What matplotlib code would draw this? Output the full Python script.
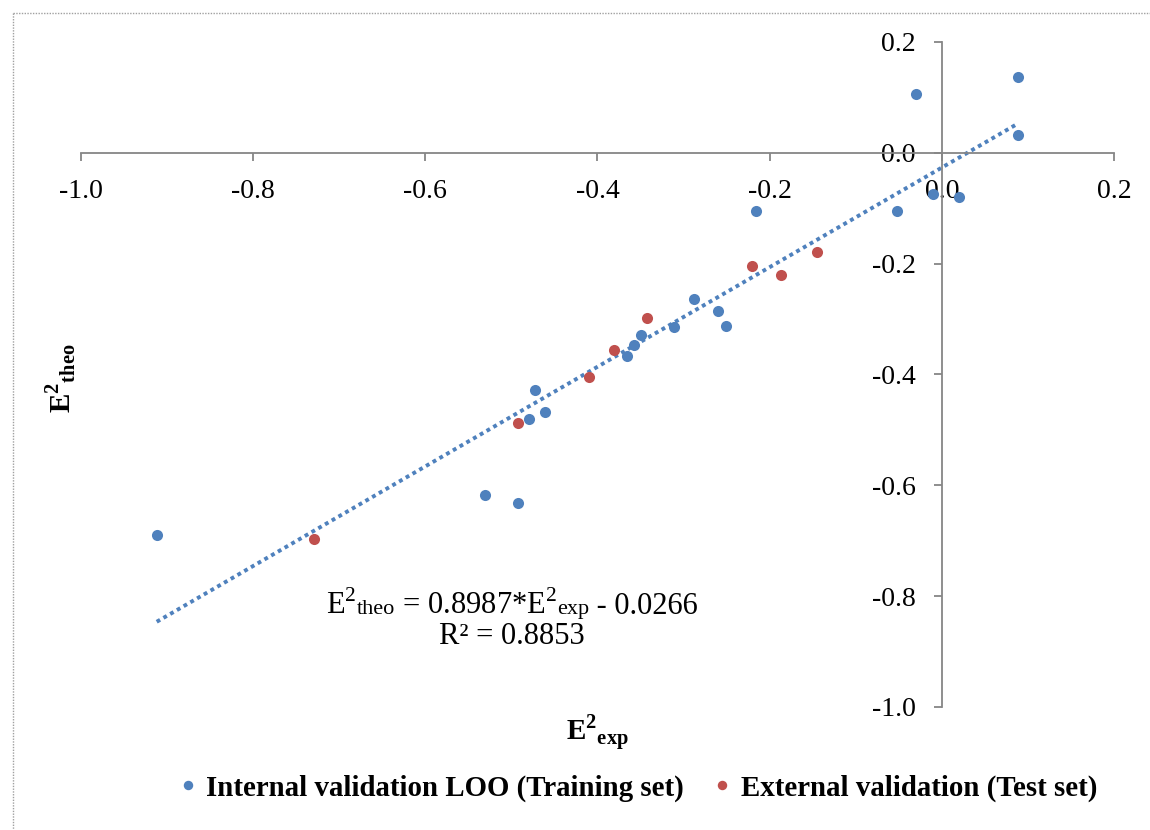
import numpy as np
import matplotlib
matplotlib.use("Agg")
from matplotlib import pyplot as plt
from matplotlib.lines import Line2D
from matplotlib.offsetbox import TextArea, HPacker, AnnotationBbox

plt.rcParams['font.family'] = ['Liberation Serif', 'DejaVu Serif']
plt.rcParams['mathtext.fontset'] = 'custom'
plt.rcParams['mathtext.rm'] = 'Liberation Serif'
plt.rcParams['mathtext.bf'] = 'Liberation Serif:bold'

# training set (internal validation LOO)
train_exp = [-0.912, -0.531, -0.492, -0.472, -0.480, -0.461, -0.366, -0.357, -0.350,
             -0.311, -0.288, -0.260, -0.251, -0.216, -0.052, -0.030, 0.089, 0.089,
             -0.010, 0.020]
train_theo = [-0.690, -0.618, -0.632, -0.428, -0.480, -0.467, -0.367, -0.347, -0.329,
              -0.315, -0.264, -0.285, -0.312, -0.105, -0.105, 0.106, 0.137, 0.032,
              -0.074, -0.079]

# test set (external validation)
test_exp = [-0.729, -0.492, -0.410, -0.381, -0.342, -0.220, -0.187, -0.145]
test_theo = [-0.697, -0.487, -0.405, -0.356, -0.298, -0.205, -0.220, -0.179]

slope = 0.8987
intercept = -0.0266
r2 = 0.8853

ticks = [-1.0, -0.8, -0.6, -0.4, -0.2, 0.0, 0.2]

blue = '#4F81BD'
red = '#C0504D'
grey = '#868686'

fig = plt.figure(figsize=(11.5, 8.3), dpi=100)
ax = fig.add_axes([0.0704, 0.1482, 0.8983, 0.8012])

all_x = train_exp + test_exp
xl = np.array([min(all_x), max(all_x)])
ax.plot(xl, slope * xl + intercept, color=blue, lw=2.8,
        linestyle=(0, (1, 1)), dash_capstyle='butt', zorder=2)

ax.plot(train_exp, train_theo, 'o', color=blue, ms=8, mec='none', zorder=3,
        label='Internal validation LOO (Training set)')
ax.plot(test_exp, test_theo, 'o', color=red, ms=8, mec='none', zorder=3,
        label='External validation (Test set)')

ax.set_xlim(-1.0, 0.2)
ax.set_ylim(-1.0, 0.2)
ax.set_xticks(ticks)
ax.set_yticks(ticks)
ax.set_xticklabels(['%.1f' % t for t in ticks])
ax.set_yticklabels(['%.1f' % t for t in ticks])

for s in ['top', 'right']:
    ax.spines[s].set_visible(False)
ax.spines['bottom'].set_position(('data', 0))
ax.spines['left'].set_position(('data', 0))
for s in ['bottom', 'left']:
    ax.spines[s].set_color(grey)
    ax.spines[s].set_linewidth(1.3)
ax.tick_params(axis='both', direction='out', length=6, width=1.3, color=grey,
               labelsize=20, labelcolor='black')
ax.tick_params(axis='x', pad=13)
ax.tick_params(axis='y', pad=13)


def piece(s, size):
    return TextArea(s, textprops=dict(fontsize=size))


# trendline equation, small "theo"/"exp" on the baseline like Excel draws it
eq_box = HPacker(children=[piece(r'E$^\mathrm{2}$', 22), piece('theo', 16),
                           piece(' = %.4f*E$^\\mathrm{2}$' % slope, 22), piece('exp', 16),
                           piece(' - %.4f' % abs(intercept), 22)],
                 align='baseline', pad=0, sep=0)
ax.add_artist(AnnotationBbox(eq_box, (-0.4994, -0.818), xycoords='data', frameon=False,
                             box_alignment=(0.5, 0.5)))
ax.text(-0.4994, -0.886, 'R² = %.4f' % r2, ha='center', va='baseline', fontsize=22)

fig.text(597 / 1150, 1 - 733 / 830, r'$\mathbf{E}^{\mathbf{2}}{}_{\mathbf{exp}}$',
         ha='center', va='center', fontsize=21)
fig.text(61 / 1150, 1 - 378 / 830, r'$\mathbf{E}^{\mathbf{2}}{}_{\mathbf{theo}}$',
         ha='center', va='center', fontsize=21, rotation=90)

leg = fig.legend(loc='center', bbox_to_anchor=(638 / 1150, 1 - 788 / 830), ncol=2,
                 frameon=False, markerscale=0.85, handlelength=0.6, handletextpad=0.35,
                 columnspacing=1.0, prop={'weight': 'bold', 'size': 20.8})

# dotted chart-area border
fig.add_artist(Line2D([13 / 1150, 1.0], [1 - 13 / 830, 1 - 13 / 830], transform=fig.transFigure,
                      color='#A0A0A0', lw=1, linestyle=(0, (1, 1))))
fig.add_artist(Line2D([13 / 1150, 13 / 1150], [1 - 13 / 830, 0.0], transform=fig.transFigure,
                      color='#A0A0A0', lw=1, linestyle=(0, (1, 1))))

fig.savefig('out.png', dpi=100)
